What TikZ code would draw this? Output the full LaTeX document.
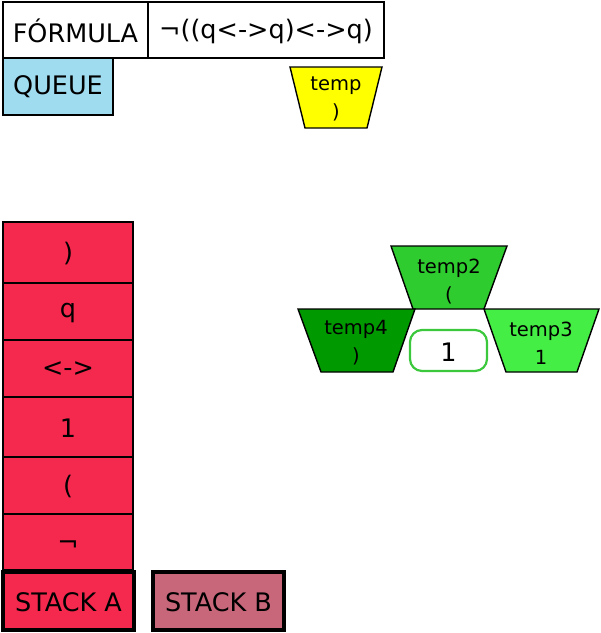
\documentclass[tikz,border=0pt]{standalone}
\usepackage{fontspec}
\setmainfont{DejaVu Sans}
\begin{document}
\begin{tikzpicture}[x=1pt,y=-1pt,
  cell/.style={draw=black,line width=1.6pt,fill=stackred},
  lbl/.style={font=\fontsize{25.5}{30}\selectfont,inner sep=0pt},
  tlbl/.style={font=\fontsize{19.5}{28}\selectfont,align=center,inner sep=0pt},
  trap/.style={draw=black,line width=1.4pt}]
\definecolor{stackred}{RGB}{245,40,78}
\definecolor{stackb}{RGB}{200,102,122}
\definecolor{queueblue}{RGB}{160,220,240}
\definecolor{tyellow}{RGB}{255,255,0}
\definecolor{gtwo}{RGB}{46,204,46}
\definecolor{gfour}{RGB}{0,153,0}
\definecolor{gthree}{RGB}{68,238,68}
\definecolor{rborder}{RGB}{60,200,60}
\useasboundingbox (0,0) rectangle (601,633);
% top row
\draw[line width=1.6pt] (3,2) rectangle (148,58);
\node[lbl] (f1) at (75.5,31) {FÓRMULA};
\draw[line width=1.6pt] (148,2) rectangle (384,58);
\node[lbl] (f2) at (266,31) {¬((q<->q)<->q)};
\draw[line width=1.6pt,fill=queueblue] (3,58) rectangle (113,115);
\node[lbl] (queue) at (58,87) {QUEUE};
% yellow temp
\draw[trap,fill=tyellow] (290,67) -- (382,67) -- (367,128) -- (305,128) -- cycle;
\node[tlbl] (temp) at (336,99) {temp\\)};
% stack A cells
\draw[cell] (3,222) rectangle (133,283);
\node[lbl] (c1) at (68,254) {)};
\draw[cell] (3,283) rectangle (133,340);
\node[lbl] (c2) at (68,313) {q};
\draw[cell] (3,340) rectangle (133,397);
\node[lbl] (c3) at (68,369) {<->};
\draw[cell] (3,397) rectangle (133,457);
\node[lbl] (c4) at (68,428) {1};
\draw[cell] (3,457) rectangle (133,514);
\node[lbl] (c5) at (68,486) {(};
\draw[cell] (3,514) rectangle (133,570);
\node[lbl] (c6) at (68,546) {¬};
\draw[line width=3.4pt,fill=stackred] (3,572) rectangle (134,630);
\node[lbl] (sa) at (68.5,602) {STACK A};
\draw[line width=3.4pt,fill=stackb] (153,572) rectangle (284,630);
\node[lbl] (sb) at (218.5,602) {STACK B};
% green trapezoids
\draw[trap,fill=gtwo] (391,246) -- (507,246) -- (484,309) -- (413,309) -- cycle;
\node[tlbl] (temp2) at (449,282) {temp2\\(};
\draw[trap,fill=gfour] (298,309) -- (415,309) -- (393,372) -- (321,372) -- cycle;
\node[tlbl] (temp4) at (356,343) {temp4\\)};
\draw[trap,fill=gthree] (484,309) -- (599,309) -- (577,372) -- (506,372) -- cycle;
\node[tlbl] (temp3) at (541,343) {temp3\\1};
\draw[draw=rborder,line width=2.2pt,fill=white,rounded corners=12pt] (410,330) rectangle (487,371);
\node[lbl] (one) at (448.5,352) {1};
\end{tikzpicture}
\end{document}
